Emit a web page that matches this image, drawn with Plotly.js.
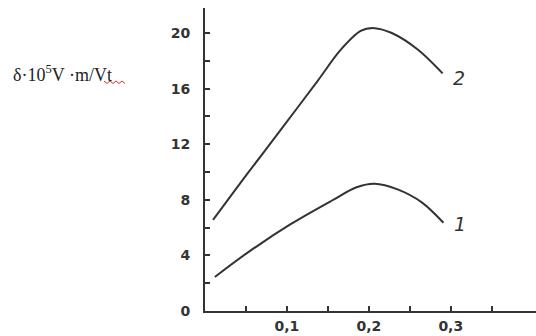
<!DOCTYPE html>
<html><head><meta charset="utf-8">
<script src="https://cdn.plot.ly/plotly-3.0.1.min.js"></script>
<style>html,body{margin:0;padding:0;background:#fff}#c{width:536px;height:336px}</style>
</head><body><div id="c"></div>
<script>
const x1 = [0.012, 0.052, 0.106, 0.155, 0.185, 0.207, 0.235, 0.265, 0.291];
const y1 = [2.45, 4.2, 6.3, 7.95, 8.9, 9.15, 8.75, 7.8, 6.35];
const x2 = [0.0098, 0.052, 0.094, 0.138, 0.165, 0.19, 0.207, 0.228, 0.26, 0.29];
const y2 = [6.55, 9.9, 13.15, 16.6, 18.75, 20.15, 20.35, 20.0, 18.8, 17.1];
const xTickVals = [0.05, 0.1, 0.15, 0.2, 0.25, 0.3, 0.35];
const xTickText = ['', '0,1', '', '0,2', '', '0,3', ''];
const yTickVals = [0, 2, 4, 6, 8, 10, 12, 14, 16, 18, 20];
const yTickText = ['0', '', '4', '', '8', '', '12', '', '16', '', '20'];
const curveLabels = ['1', '2'];
const yLabel = 'δ·10<sup>5</sup>V ·m/Vt';

const W = 536, H = 336, L = 205, R = 0, T = 8, B = 25;
const px = v => (v - L) / (W - L - R);
const py = v => (H - B - v) / (H - T - B);

const lineStyle = {color: '#333', width: 2, shape: 'spline', smoothing: 0.9};
const traces = [
  {x: x1, y: y1, mode: 'lines', line: lineStyle, hoverinfo: 'skip'},
  {x: x2, y: y2, mode: 'lines', line: lineStyle, hoverinfo: 'skip'}
];
const tf = {family: 'DejaVu Sans', size: 14, color: '#333', weight: 'bold'};
// red wavy underline (spell-check mark in the reference)
let wave = 'M' + px(104) + ',' + py(81);
for (let i = 1; i <= 7; i++) {
  wave += ' L' + px(104 + i * 3) + ',' + py(i % 2 ? 83.5 : 81);
}
const layout = {
  width: W, height: H,
  margin: {l: L, r: R, t: T, b: B},
  paper_bgcolor: '#fff', plot_bgcolor: '#fff',
  showlegend: false,
  xaxis: {range: [0, 0.404], showline: true, linecolor: '#333', linewidth: 2,
    showgrid: false, zeroline: false, ticks: 'inside', ticklen: 5, tickwidth: 2, tickcolor: '#333',
    tickvals: xTickVals, ticktext: xTickText, ticklabelstandoff: 1, tickfont: tf},
  yaxis: {range: [0, 21.8], showline: true, linecolor: '#333', linewidth: 2,
    showgrid: false, zeroline: false, ticks: 'inside', ticklen: 5, tickwidth: 2, tickcolor: '#333',
    tickvals: yTickVals, ticktext: yTickText, ticklabelstandoff: 10, tickfont: tf},
  annotations: [
    {x: px(460), y: py(224), xref: 'paper', yref: 'paper', text: curveLabels[0],
     showarrow: false, xanchor: 'center', yanchor: 'middle',
     font: {family: 'DejaVu Sans', size: 19, color: '#333', style: 'italic'}},
    {x: px(459), y: py(78), xref: 'paper', yref: 'paper', text: curveLabels[1],
     showarrow: false, xanchor: 'center', yanchor: 'middle',
     font: {family: 'DejaVu Sans', size: 19, color: '#333', style: 'italic'}},
    {x: px(11), y: py(73), xref: 'paper', yref: 'paper', text: yLabel, showarrow: false,
     xanchor: 'left', yanchor: 'middle',
     font: {family: 'Liberation Serif', size: 18, color: '#222'}}
  ],
  shapes: [
    {type: 'path', xref: 'paper', yref: 'paper', path: wave,
     line: {color: '#e03030', width: 1}}
  ]
};
Plotly.newPlot('c', traces, layout, {displayModeBar: false, staticPlot: true});
</script></body></html>
